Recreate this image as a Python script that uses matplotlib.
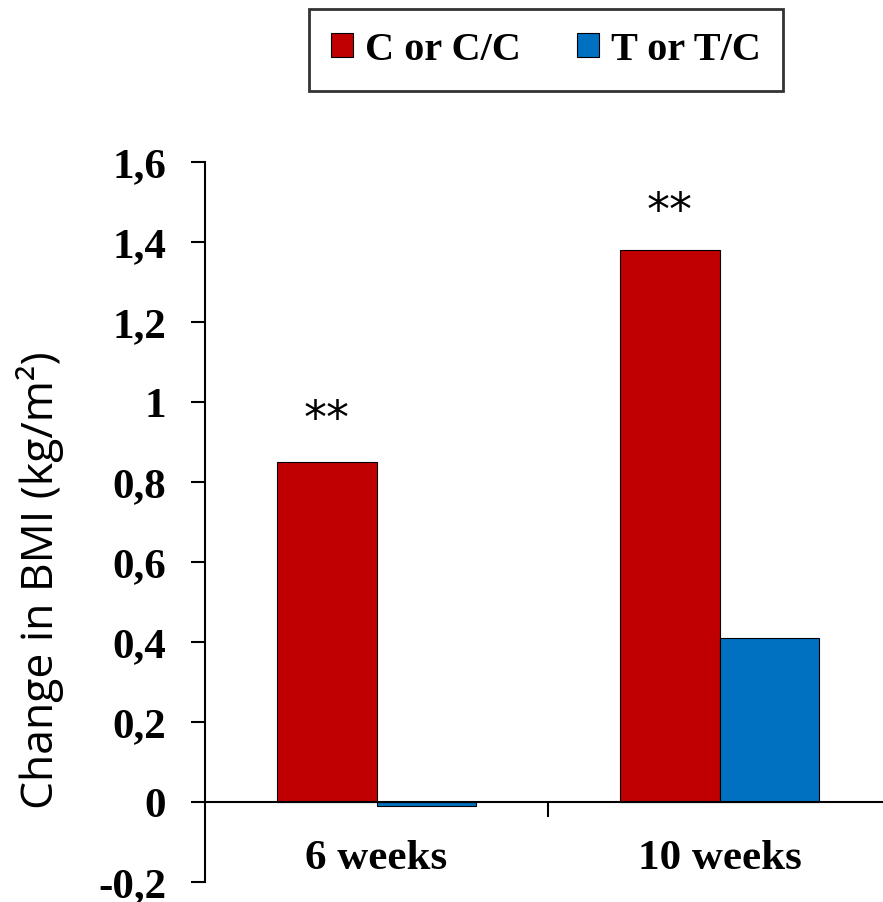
import matplotlib
matplotlib.use("Agg")
import matplotlib.pyplot as plt
import numpy as np
from matplotlib.patches import Patch

categories = ["6 weeks", "10 weeks"]
series_names = ["C or C/C", "T or T/C"]
c_values = [0.85, 1.38]
t_values = [-0.01, 0.41]
star_labels = ["**", "**"]
star_heights = [0.955, 1.475]
y_ticks = [-0.2, 0, 0.2, 0.4, 0.6, 0.8, 1.0, 1.2, 1.4, 1.6]
y_label = "Change in BMI (kg/m²)"

red = "#C00000"
blue = "#0070C0"
serif_bold = dict(family="Liberation Serif", weight="bold")

fig = plt.figure(figsize=(8.83, 9.03), dpi=100)
ax = fig.add_axes([205/883, 20/903, 686/883, 720/903])

x = np.arange(len(categories))
w = 0.29
ax.bar(x - w/2, c_values, w, color=red, edgecolor="black", linewidth=0.8, label=series_names[0])
ax.bar(x + w/2, t_values, w, color=blue, edgecolor="black", linewidth=0.8, label=series_names[1])

for xi, s, h in zip(x - w/2, star_labels, star_heights):
    ax.text(xi, h, s, ha="center", va="center", fontsize=33, family="DejaVu Sans")

ax.set_xlim(-0.5, 1.5)
ax.set_ylim(-0.2, 1.6)
ax.set_yticks(y_ticks)
ax.set_yticklabels([f"{v:g}".replace(".", ",") for v in y_ticks], fontsize=31, **serif_bold)

ax.spines["top"].set_visible(False)
ax.spines["right"].set_visible(False)
ax.spines["bottom"].set_position(("data", 0))
ax.spines["left"].set_linewidth(1.5)
ax.spines["bottom"].set_linewidth(1.5)

ax.set_xticks([0.5])
ax.set_xticklabels([""])
ax.tick_params(axis="x", which="major", direction="out", length=11, width=1.5)
ax.set_xticks(x, minor=True)
ax.set_xticklabels(categories, minor=True, fontsize=31, **serif_bold)
ax.tick_params(axis="x", which="minor", length=0, pad=27)
ax.tick_params(axis="y", direction="out", length=10, width=1.5, pad=18)

ax.set_ylabel(y_label, fontsize=32, family="Open Sans")
ax.yaxis.set_label_coords(-0.205, 0.42)

handles = [Patch(facecolor=red, edgecolor="black", linewidth=0.8),
           Patch(facecolor=blue, edgecolor="black", linewidth=0.8)]
leg = fig.legend(handles, series_names, loc="center", bbox_to_anchor=(546/883, 1 - 51/903),
                 ncol=2, prop=dict(family="Liberation Serif", weight="bold", size=29),
                 frameon=True, fancybox=False, edgecolor="black",
                 handlelength=0.55, handleheight=0.55, handletextpad=0.3, columnspacing=1.4,
                 borderpad=0.55, borderaxespad=0)
leg.get_frame().set_linewidth(2)

fig.savefig("out.png", dpi=100)
